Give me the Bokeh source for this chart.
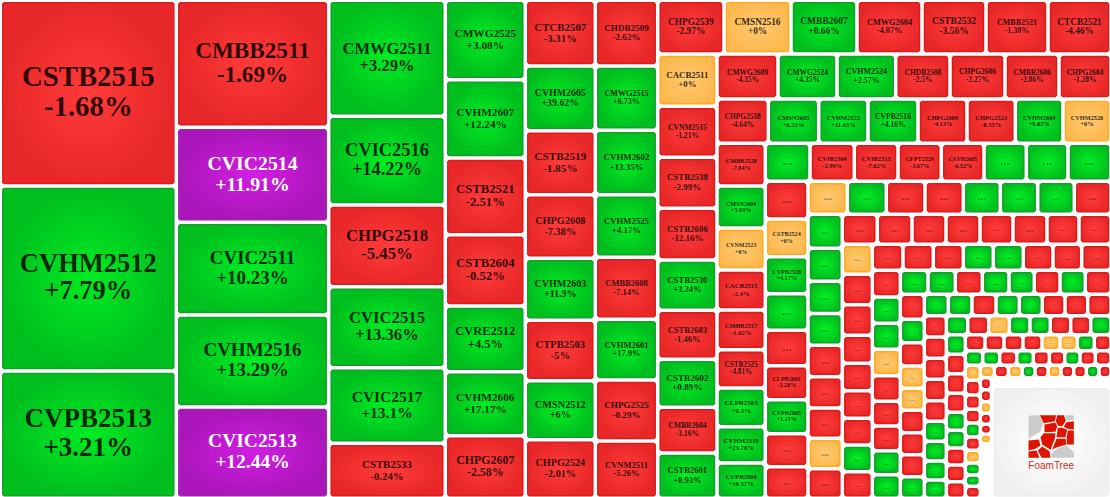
from bokeh.plotting import figure
from bokeh.models import Range1d, ColumnDataSource
from bokeh.embed import file_html
from bokeh.resources import INLINE
from bokeh.core.properties import value

H = None
strip_axes = ["col"] * 6 + ["row", "col", "row", "row", "col", "row", "col", "row", "col", "row", "col", "row",
              "col", "row", "col", "row", "col", "row", "col", "row", "row", "col", "row", "col"]

tickers = [
    "CSTB2515", "CVHM2512", "CVPB2513",
    "CMBB2511", "CVIC2514", "CVIC2511", "CVHM2516", "CVIC2513",
    "CMWG2511", "CVIC2516", "CHPG2518", "CVIC2515", "CVIC2517", "CSTB2533",
    "CMWG2525", "CVHM2607", "CSTB2521", "CSTB2604", "CVRE2512", "CVHM2606", "CHPG2607",
    "CTCB2507", "CVHM2605", "CSTB2519", "CHPG2608", "CVHM2603", "CTPB2503", "CMSN2512", "CHPG2524",
    "CHDB2509", "CMWG2515", "CVHM2602", "CVHM2525", "CMBB2608", "CVHM2601", "CHPG2525", "CVNM2511",
    "CHPG2539", "CMSN2516", "CMBB2607", "CMWG2604", "CSTB2532", "CMBB2521", "CTCB2521",
    "CACB2511", "CVNM2515", "CSTB2538", "CSTB2606", "CSTB2530", "CSTB2603", "CSTB2602", "CMBB2604", "CSTB2601",
    "CMWG2609", "CMWG2524", "CVHM2524", "CHDB2508", "CHPG2606", "CMBB2606", "CHPG2604",
    "CHPG2538", "CMSN2605", "CVHM2522", "CVPB2516", "CHPG2609", "CHPG2523", "CVHM2604", "CVHM2520",
    "CMBB2528", "CMSN2604", "CVNM2523", "CACB2515", "CMBB2517", "CSTB2525", "CLPB2503", "CVHM2519", "CVPB2606",
    H, "CVIB2504", "CVIB2513", "CFPT2529", "CSTB2605", H, H, H,
    H, "CSTB2524", "CVPB2528", H, H, "CLPB2601", "CVPB2605", H, H,
]
changes = [
    -1.68, 7.79, 3.21,
    -1.69, 11.91, 10.23, 13.29, 12.44,
    3.29, 14.22, -5.45, 13.36, 13.1, -0.24,
    3.08, 12.24, -2.51, -0.52, 4.5, 17.17, -2.58,
    -3.31, 39.62, -1.85, -7.38, 11.9, -5, 6, -2.01,
    -2.62, 6.73, 13.35, 4.17, -7.14, 17.9, -0.29, -5.26,
    -2.97, 0, 0.66, -4.07, -3.56, -1.38, -4.46,
    0, -1.21, -2.99, -12.16, 3.24, -1.46, 0.89, -3.16, 0.93,
    -4.35, 4.35, 2.57, -2.5, -2.27, -2.86, -1.28,
    -4.64, 6.55, 11.43, 4.16, -4.13, -8.55, 9.85, 0,
    -7.84, 5.69, 0, -2.4, -1.02, -4.81, 0.3, 23.78, 10.57,
    H, -2.99, -7.02, -3.67, -6.52, H, H, H,
    H, 0, 4.17, H, H, -3.28, 1.11, H, H,
]
volume_strips = [
    [32683, 32560, 22405],
    [19355, 14478, 14127, 14021, 13914],
    [13526, 10342, 9526, 9445, 8815, 6413],
    [6352, 6264, 6136, 5704, 5256, 5120, 5008],
    [4599, 4529, 4480, 4452, 4340, 4228, 4130, 4102],
    [4100, 4012, 4019, 3906, 3869, 3788, 3806, 3576],
    [3560, 3598, 3544, 3491, 3437, 3329, 3383],
    [3101, 3024, 3024, 3066, 2983, 2906, 2846, 2710, 2686],
    [2745, 2655, 2642, 2444, 2475, 2430, 2340],
    [2273, 2233, 2184, 2215, 2171, 2140, 2113, 2126],
    [2062, 2029, 2029, 1932, 1918, 1850, 1869, 1753, 1705],
    [1699, 1683, 1661, 1645, 1623, 1607, 1585, 1634],
    [1610, 1610, 1580, 1563, 1512, 1452, 1452, 1409, 1349],
    [1297, 1287, 1277, 1264, 1221, 1234, 1208, 1211],
    [1166, 1132, 1104, 1091, 1077, 1074, 1039, 1043, 1015],
    [1050, 1041, 1020, 1020, 990, 1020, 960, 960],
    [900, 912, 918, 840, 822, 828, 801, 801, 798],
    [798, 788, 780, 780, 780, 772, 746, 762],
    [748, 736, 728, 739, 717, 692, 692, 672, 661],
    [665, 655, 648, 641, 607, 617, 607, 617],
    [600, 562, 559, 535, 528, 538, 528, 528, 518],
    [514, 507, 514, 499, 492, 486, 486, 499],
    [469, 469, 462, 471, 453, 440, 433, 418, 403],
    [407, 399, 391, 393, 386, 388, 380, 386],
    [372, 369, 372, 361, 342, 336, 323, 317, 315],
    [315, 304, 304, 304, 288, 277, 272, 267],
    [254, 248, 248, 242, 234, 225, 223, 223, 229],
    [225, 220, 215, 206, 210, 200, 191, 180, 170, 180],
    [174, 174, 170, 161, 161, 161, 157, 156, 157, 149],
    [134, 134, 130, 123, 112, 105, 612],
]
# r fell, g rose, o unchanged, p ceiling, _ empty
status_strips = [
    "rgg", "rpggp", "ggrggr", "ggrrggr", "rgrrgrgr", "rgggrgrr", "rogrrrr", "orrrgrgrg",
    "rggrrrr", "rgggrrgo", "rgorrrggg", "grrrrggg", "roggrrgrr", "ogrrgggr", "ggggrrror",
    "rrrrrrrr", "orrrrrrgr", "rrrggrrr", "rggorrrgg", "ggrggrgr", "rgroorrrg", "ggrggrrr",
    "rrrrrgggg", "grogg" + "rrg", "grrrggrrr", "rrrroogr", "ggrgrrgrr", "orrrgroggr",
    "orogrorrgr", "rrorro_",
]
label_px = [
    28.8, 26.5, 27,
    23.2, 19.8, 19, 19, 19.5,
    16.5, 18.4, 16.8, 16.7, 15.5, 10.8,
    11.3, 11.2, 12.7, 12.7, 12.4, 11.3, 11.9,
    10.9, 9.9, 11.3, 10.3, 10, 10.6, 10.3, 10.2,
    9.1, 8.1, 8.9, 8.7, 8.5, 8.5, 9.1, 8.5,
    9.3, 9.3, 9.5, 8.3, 9.5, 8, 9.3,
    8.8, 7.6, 8.9, 8.9, 8.7, 8.5, 9.2, 7.7, 8.6,
    7.5, 7.5, 8, 7.5, 7.6, 7.5, 7.5,
    7.4, 6.5, 6.4, 7.6, 6.3, 6.5, 6.3, 6.3,
    6.2, 6.2, 5.9, 6.7, 6.5, 7.2, 7.1, 6.8, 6.6,
    6.4, 6.4, 6.2, 6.2,
    6.1, 6.1, 6.1, 6.1,
]
palette = {
    "r": ((255, 58, 58), (232, 40, 40), "#dc1c1c"),
    "g": ((0, 235, 35), (0, 190, 30), "#14a02c"),
    "o": ((255, 200, 110), (253, 185, 80), "#ffaa22"),
    "p": ((208, 30, 225), (170, 22, 185), "#9a2aa8"),
}
GAP = 5.0

status = "".join(status_strips)


def squarified(x0, y0, x1, y1):
    cells = []
    for axis, vals in zip(strip_axes, volume_strips):
        total = sum(vals)
        if axis == "col":
            t = total / (y1 - y0)
            pos = y0
            for v in vals:
                cells.append((x0, pos, x0 + t, pos + v / t))
                pos += v / t
            x0 += t
        else:
            t = total / (x1 - x0)
            pos = x0
            for v in vals:
                cells.append((pos, y0, pos + v / t, y0 + t))
                pos += v / t
            y0 += t
    return cells, (x0, y0, x1, y1)


cells, rest = squarified(-0.2, -0.2, 1110.5, 497.8)

p = figure(width=1110, height=497, x_range=Range1d(0, 1110), y_range=Range1d(497, 0),
           toolbar_location=None, output_backend="svg", min_border=0, outline_line_color=None,
           background_fill_color="white", border_fill_color="white")
p.axis.visible = False
p.grid.visible = False


def chamfer(l, t, r, b, c):
    return ([l + c, r - c, r, r, r - c, l + c, l, l], [t, t, t + c, b - c, b, b, b - c, t + c])


xs, ys, fills, lines = [], [], [], []
ex, ey, ew, eh, ec = [], [], [], [], []
names = dict(x=[], y=[], text=[], fs=[], color=[], alpha=[])
sizes = iter(label_px)
for idx, ((l, t, r, b), st) in enumerate(zip(cells, status)):
    if st == "_":
        continue
    l, t, r, b = l + GAP / 2, t + GAP / 2, r - GAP / 2, b - GAP / 2
    w, h = r - l, b - t
    cx, cy = (l + r) / 2, (t + b) / 2
    inner, outer, border = palette[st]
    c = min(1.3, min(w, h) / 4)
    px, py = chamfer(l, t, r, b, c)
    xs.append(px)
    ys.append(py)
    fills.append("#%02x%02x%02x" % outer)
    lines.append(border)
    layers = max(3, min(20, int(min(w, h) / 7)))
    for k in range(layers):
        f = (k + 1) / layers
        s = 1 - k / layers
        ex.append(cx)
        ey.append(cy)
        ew.append((w - 2) * s)
        eh.append((h - 2) * s)
        ec.append("#%02x%02x%02x" % tuple(round(outer[j] + (inner[j] - outer[j]) * f) for j in range(3)))
    tk = tickers[idx] if idx < len(tickers) else None
    col = "#ffffff" if st == "p" else "#000000"
    al = 1.0 if st == "p" else 0.82
    if tk:
        fs = next(sizes)
        for text, yy in ((tk, cy - 0.6 * fs), (f"{changes[idx]:+g}%", cy + 0.45 * fs)):
            names["x"].append(cx)
            names["y"].append(yy)
            names["text"].append(text)
            names["fs"].append(f"{fs}px")
            names["color"].append(col)
            names["alpha"].append(al)
    elif w >= 12:
        names["x"].append(cx)
        names["y"].append(cy - 0.1 * w * 0.33)
        names["text"].append("...")
        names["fs"].append(f"{0.33 * min(w, 1.2 * h):.1f}px")
        names["color"].append(col)
        names["alpha"].append(0.45)

p.patches(xs, ys, fill_color=fills, line_color=lines, line_width=1.5)
p.ellipse(x=ex, y=ey, width=ew, height=eh, fill_color=ec, line_color=None)
p.text(x="x", y="y", text="text", text_font=value("Liberation Serif"), text_font_style="bold",
       text_font_size="fs", text_color="color", text_alpha="alpha", text_align="center",
       text_baseline="middle", source=ColumnDataSource(names))

# FoamTree logo panel, in the cell left over by the last strip
lx0, ly0, lx1, ly1 = rest[0] + 3, rest[1] + 11, rest[2] - 2.5, rest[3] - 2.5
px, py = chamfer(lx0, ly0, lx1, ly1, 2)
p.patch(px, py, fill_color="#f0f0f0", line_color="#ececec", line_width=1.5)
for k, g in enumerate(("#f3f3f3", "#f6f6f6", "#f9f9f9", "#fcfcfc", "#ffffff")):
    s = 1 - k / 5
    p.ellipse(x=[(lx0 + lx1) / 2], y=[(ly0 + ly1) / 2], width=[(lx1 - lx0 - 2) * s],
              height=[(ly1 - ly0 - 2) * s], fill_color=g, line_color=None)

logo_grey = [
    [(504, 140), (510, 134), (535, 134), (548, 155), (540, 183), (504, 205)],
    [(613, 134), (640, 134), (640, 148), (620, 150)],
    [(572, 250), (588, 235), (618, 225), (640, 245), (640, 262), (572, 262)],
]
logo_red = [
    [(538, 134), (587, 134), (583, 152), (550, 158)],
    [(590, 134), (610, 134), (616, 150), (605, 168), (592, 165), (586, 152)],
    [(618, 155), (640, 152), (640, 177), (620, 175), (610, 168)],
    [(552, 162), (585, 156), (590, 168), (585, 184), (552, 185)],
    [(592, 172), (605, 172), (620, 178), (615, 200), (588, 200)],
    [(622, 180), (640, 180), (640, 222), (620, 222), (618, 205)],
    [(550, 188), (585, 188), (583, 205), (570, 238), (545, 222), (540, 200)],
    [(504, 210), (535, 207), (540, 225), (525, 235), (504, 240)],
    [(588, 205), (615, 205), (618, 222), (585, 232), (575, 238)],
    [(545, 228), (567, 242), (570, 262), (543, 262), (532, 240)],
    [(504, 243), (528, 240), (537, 262), (504, 262)],
]
for group, colr in ((logo_grey, "#cccccc"), (logo_red, "#dc1400")):
    p.patches([[860 + a / 3 for a, _ in poly] for poly in group],
              [[370 + b / 3 for _, b in poly] for poly in group],
              fill_color=colr, line_color=None)
p.text(x=[1050.7], y=[465], text=["FoamTree"], text_font=value("Liberation Sans"), text_font_size="10px",
       text_color="#d62a20", text_align="center", text_baseline="middle")

open("out.html", "w").write(file_html(p, INLINE))
